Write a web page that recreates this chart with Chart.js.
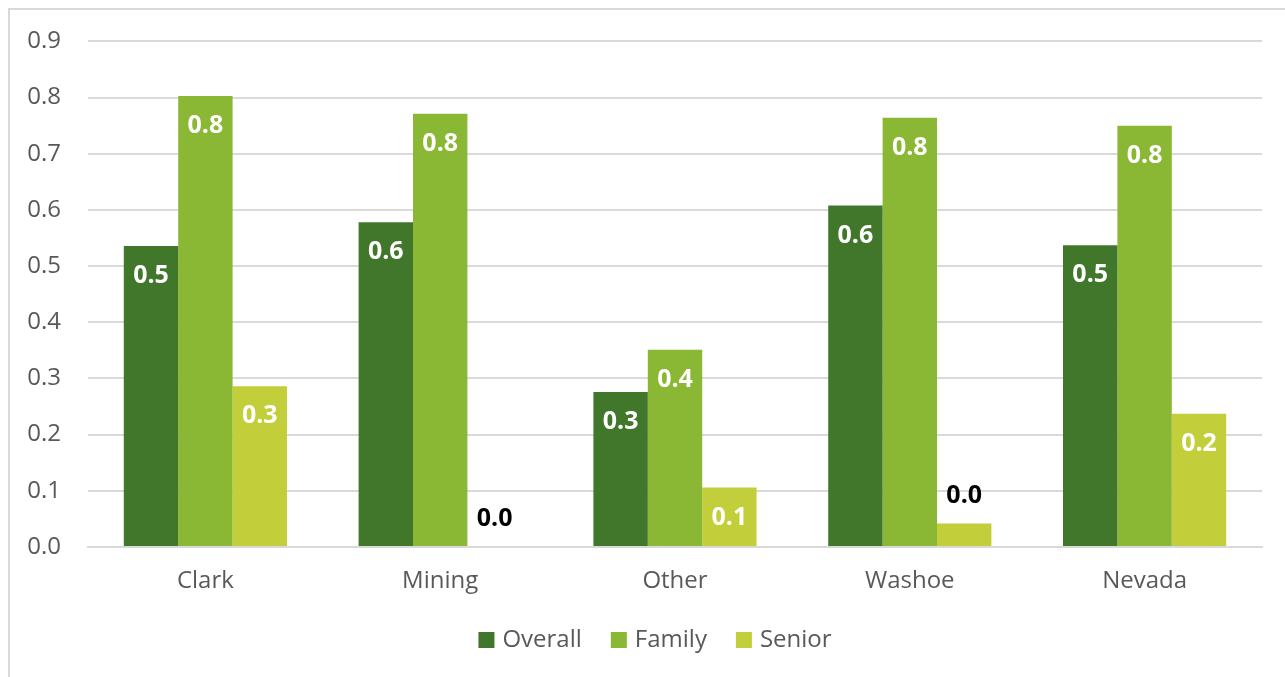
<!DOCTYPE html>
<html>
<head>
<meta charset="utf-8">
<script src="https://cdn.jsdelivr.net/npm/chart.js@4"></script>
<style>
  html, body { margin: 0; padding: 0; background: #fff; overflow: hidden; }
  #wrap { position: relative; width: 1285px; height: 677px; }
  #frame { position: absolute; left: 8px; top: 8px; width: 1300px; height: 700px; border: 2px solid #d9d9d9; box-sizing: border-box; }
  canvas { position: absolute; left: 0; top: 0; }
</style>
</head>
<body>
<div id="wrap">
  <div id="frame"></div>
  <canvas id="chart" width="1285" height="677"></canvas>
</div>
<script>
// Dữ liệu
const regions = ["Clark", "Mining", "Other", "Washoe", "Nevada"];
const overall = [0.536, 0.578, 0.276, 0.608, 0.537];
const family = [0.803, 0.771, 0.351, 0.764, 0.750];
const senior = [0.286, 0.0, 0.106, 0.042, 0.237];
const yTicks = [0, 0.1, 0.2, 0.3, 0.4, 0.5, 0.6, 0.7, 0.8, 0.9];

const textGray = "#595959";
const gridGray = "#d9d9d9";
const fontFamily = "'Open Sans', 'DejaVu Sans', sans-serif";

// Plugin vẽ nhãn giá trị trên cột
const barLabels = {
  id: "barLabels",
  afterDatasetsDraw(chart) {
    const ctx = chart.ctx;
    ctx.save();
    ctx.font = "bold 25px " + fontFamily;
    ctx.textAlign = "center";
    ctx.textBaseline = "middle";
    chart.data.datasets.forEach((ds, i) => {
      const meta = chart.getDatasetMeta(i);
      meta.data.forEach((bar, j) => {
        const h = bar.base - bar.y;
        const txt = ds.data[j].toFixed(1);
        if (h > 45) {
          ctx.fillStyle = "#ffffff";
          ctx.fillText(txt, bar.x, bar.y + 30);
        } else {
          ctx.fillStyle = "#000000";
          ctx.fillText(txt, bar.x, bar.y - 28);
        }
      });
    });
    ctx.restore();
  }
};

// Chú thích tự vẽ để khớp khoảng cách
const bottomLegend = {
  id: "bottomLegend",
  afterDraw(chart) {
    const ctx = chart.ctx;
    const box = 16, gapText = 8, gapItem = 29, centerX = 655, centerY = 640;
    ctx.save();
    ctx.font = "24px " + fontFamily;
    ctx.textBaseline = "middle";
    const items = chart.data.datasets.map(ds => ({ label: ds.label, color: ds.backgroundColor, w: ctx.measureText(ds.label).width }));
    let total = items.reduce((acc, it) => acc + box + gapText + it.w, 0) + gapItem * (items.length - 1);
    let x = centerX - total / 2;
    items.forEach(it => {
      ctx.fillStyle = it.color;
      ctx.fillRect(x, centerY - box / 2, box, box);
      x += box + gapText;
      ctx.fillStyle = textGray;
      ctx.fillText(it.label, x, centerY);
      x += it.w + gapItem;
    });
    ctx.restore();
  }
};

const ctx = document.getElementById("chart");
new Chart(ctx, {
  type: "bar",
  data: {
    labels: regions,
    datasets: [
      { label: "Overall", data: overall, backgroundColor: "#41772a" },
      { label: "Family", data: family, backgroundColor: "#8bb834" },
      { label: "Senior", data: senior, backgroundColor: "#c2cf3a" }
    ]
  },
  options: {
    responsive: false,
    animation: false,
    layout: { padding: { left: 0, right: 23, top: 28, bottom: 65 } },
    datasets: {
      bar: { barPercentage: 1, categoryPercentage: 0.695 }
    },
    scales: {
      x: {
        grid: { display: false, drawTicks: false },
        border: { color: gridGray, width: 2 },
        ticks: { color: textGray, font: { family: fontFamily, size: 24 }, padding: 20 },
        afterFit(scale) { scale.height = 65; }
      },
      y: {
        min: 0,
        max: 0.9,
        afterBuildTicks(scale) { scale.ticks = yTicks.map(v => ({ value: v })); },
        grid: { color: gridGray, lineWidth: 2, drawTicks: false },
        border: { display: false },
        ticks: {
          color: textGray,
          font: { family: fontFamily, size: 24 },
          padding: 27,
          callback: v => v.toFixed(1)
        },
        afterFit(scale) { scale.width = 88; }
      }
    },
    plugins: {
      legend: { display: false },
      tooltip: { enabled: false }
    }
  },
  plugins: [barLabels, bottomLegend]
});
</script>
</body>
</html>
